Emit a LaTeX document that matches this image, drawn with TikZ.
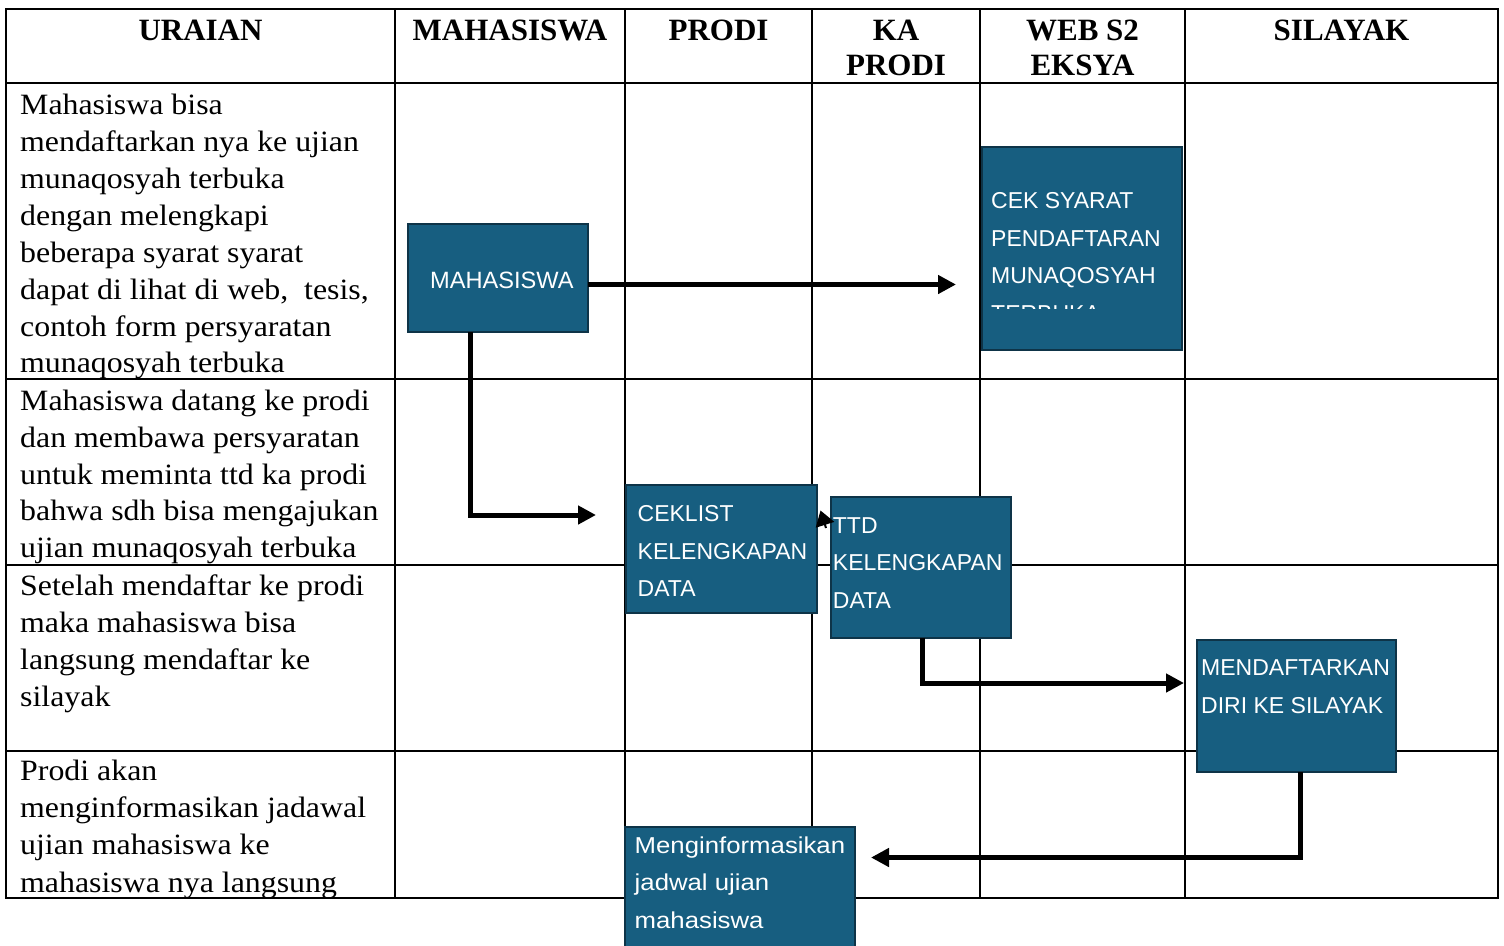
\documentclass[tikz,border=0pt]{standalone}
\usepackage{fontspec}
\setmainfont{Liberation Serif}
\newfontfamily\bodyfont{Liberation Serif}[FakeStretch=1.08]
\newfontfamily\headfont{Liberation Serif}
\newfontfamily\boxfont{Liberation Sans}
\newfontfamily\boxwidefont{Liberation Sans}[FakeStretch=1.12]
\usetikzlibrary{arrows.meta,calc}
\definecolor{boxfill}{RGB}{23,94,128}
\definecolor{boxedge}{RGB}{14,52,72}
\begin{document}
\begin{tikzpicture}[x=1pt,y=-1pt,
  grid/.style={line width=2.4pt,black},
  hdr/.style={font=\headfont\bfseries\fontsize{31}{35}\selectfont, align=center, anchor=north, inner sep=0},
  cell/.style={font=\bodyfont\fontsize{29.5}{36.8}\selectfont, align=left, anchor=north west, inner sep=0},
  procbox/.style={draw=boxedge, line width=2.5pt, fill=boxfill, rectangle, inner sep=0, outer sep=0, anchor=north west},
  boxtext/.style={font=\boxfont\fontsize{23}{37.5}\selectfont, text=white, align=left, anchor=north west, inner sep=0},
  flow/.style={line width=5pt, line join=miter, -{Triangle[length=18pt,width=18pt]}},
  smallflow/.style={line width=2pt, -{Triangle[length=15pt,width=19pt]}},
]
\useasboundingbox (0,0) rectangle (1504,945);
\fill[white] (0,0) rectangle (1504,945);

% table grid
\draw[grid] (6,9) rectangle (1498,898);
\foreach \yy in {83,379,565,751} \draw[grid] (6,\yy) -- (1498,\yy);
\foreach \xx in {395,625,812,980,1185} \draw[grid] (\xx,9) -- (\xx,898);

% headers
\node[hdr] (h1) at (200.5,19.7) {URAIAN};
\node[hdr] (h2) at (510,19.7) {MAHASISWA};
\node[hdr] (h3) at (718.5,19.7) {PRODI};
\node[hdr] (h4) at (896,19.7) {KA\\PRODI};
\node[hdr] (h5) at (1082.5,19.7) {WEB S2\\EKSYA};
\node[hdr] (h6) at (1341.5,19.7) {SILAYAK};

% description cells
\node[cell, font=\bodyfont\fontsize{29.5}{36.9}\selectfont] (r1) at (20,94) {Mahasiswa bisa\\mendaftarkan nya ke ujian\\munaqosyah terbuka\\dengan melengkapi\\beberapa syarat syarat\\dapat di lihat di web,~ tesis,\\contoh form persyaratan\\munaqosyah terbuka};
\node[cell] (r2) at (20,389.9) {Mahasiswa datang ke prodi\\dan membawa persyaratan\\untuk meminta ttd ka prodi\\bahwa sdh bisa mengajukan\\ujian munaqosyah terbuka};
\node[cell] (r3) at (20,574.9) {Setelah mendaftar ke prodi\\maka mahasiswa bisa\\langsung mendaftar ke\\silayak};
\node[cell, font=\bodyfont\fontsize{29.5}{37.2}\selectfont] (r4) at (20,759.9) {Prodi akan\\menginformasikan jadawal\\ujian mahasiswa ke\\mahasiswa nya langsung};

% process boxes
\node[procbox, minimum width=180pt, minimum height=108pt] (mhs) at (408,224) {};
\node[procbox, minimum width=200pt, minimum height=203pt] (cek) at (982,147) {};
\node[procbox, minimum width=191pt, minimum height=128pt] (ckl) at (626,485) {};
\node[procbox, minimum width=180pt, minimum height=141pt] (ttd) at (831,497) {};
\node[procbox, minimum width=199pt, minimum height=132pt] (daf) at (1197,640) {};
\node[procbox, minimum width=230pt, minimum height=125pt] (inf) at (625,827) {};

% box texts
\node[boxtext, font=\boxfont\fontsize{23.6}{37.5}\selectfont] (mhst) at (430,271.5) {MAHASISWA};
\begin{scope}
  \clip (982,147) rectangle (1182,308);
  \node[boxtext] (cekt) at (991,192.3) {CEK SYARAT\\PENDAFTARAN\\MUNAQOSYAH\\TERBUKA};
\end{scope}
\node[boxtext, font=\boxfont\fontsize{23}{37.3}\selectfont] (cklt) at (637.5,505.5) {CEKLIST\\KELENGKAPAN\\DATA};
\node[boxtext] (ttdt) at (832.7,517) {TTD\\KELENGKAPAN\\DATA};
\node[boxtext, font=\boxfont\fontsize{23}{38}\selectfont] (daft) at (1201,659.5) {MENDAFTARKAN\\DIRI KE SILAYAK};
\node[boxtext, font=\boxwidefont\fontsize{23}{37.5}\selectfont] (inft) at (634.5,836.5) {Menginformasikan\\jadwal ujian\\mahasiswa};

% connector end points
\coordinate (t1) at (956,284.5);
\coordinate (t2) at (596,515);
\coordinate (t3) at (820.5,510.5);
\coordinate (t4) at (1184,683);
\coordinate (t5) at (871,857.5);

% connectors
\draw[flow] (mhs.east |- t1) -- (t1);
\draw[flow] ([xshift=-28pt]mhs.south) |- (t2);
\draw[smallflow] ([xshift=-5pt,yshift=-31pt]ttd.north west) -- (t3);
\draw[flow] ([xshift=1.5pt]ttd.south) |- (t4);
\draw[flow] ([xshift=3.5pt]daf.south) |- (t5);
\end{tikzpicture}
\end{document}
